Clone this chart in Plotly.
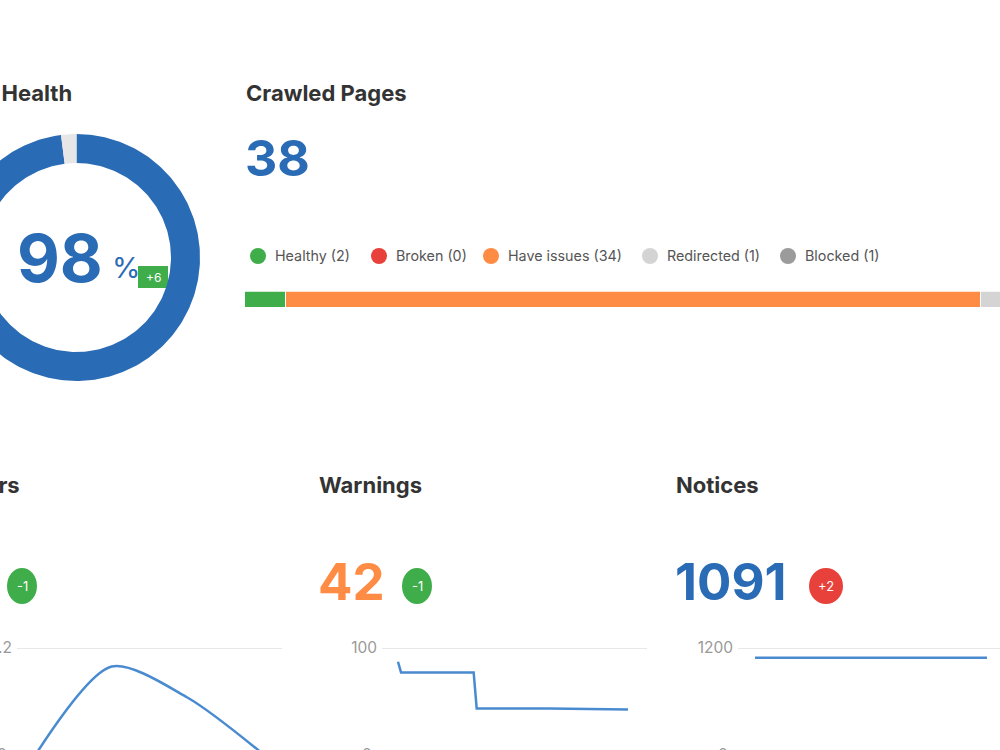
import math
import plotly.graph_objects as go

W, H = 1000, 750

# ---------------- data ----------------
health_values = [98, 2]                 # score, remainder
health_colors = ["#2a6bb5", "#e6e6e6"]
health_delta = "+6"

crawled_total = 38
page_status = ["Healthy", "Broken", "Have issues", "Redirected", "Blocked"]
page_counts = [2, 0, 34, 1, 1]
status_colors = ["#40ad4b", "#e8403a", "#ff8c45", "#d4d4d4", "#9b9b9b"]

issue_titles = ["Errors", "Warnings", "Notices"]
issue_counts = [None, 42, 1091]          # errors count is cropped out of view
issue_count_colors = ["#2a6bb5", "#ff8c45", "#2a6bb5"]
issue_deltas = ["-1", "-1", "+2"]
issue_delta_colors = ["#40ad4b", "#40ad4b", "#e8403a"]

errors_x = [0, 1, 2, 3]
errors_y = [0, 0.99, 0.64, 0]
warnings_x = [0, 1, 25, 26, 50, 76]
warnings_y = [87, 77, 77, 43, 43, 42]
notices_x = [0, 76]
notices_y = [1090, 1091]
axis_top_values = [1.2, 100, 1200]
axis_top_labels = ["1.2", "100", "1200"]

# ---------------- helpers ----------------
def px(x):
    return x / W

def py(y):
    return 1 - y / H

FONT = "Inter, 'Open Sans', Arial, sans-serif"
TITLE_COLOR = "#333333"
LINE_COLOR = "#4a8bd0"

fig = go.Figure()
shapes = []
ann = []

def text(x, y, s, size, color, bold=False, xanchor="left", yanchor="middle"):
    ann.append(dict(x=px(x), y=py(y), xref="paper", yref="paper", text=f"<b>{s}</b>" if bold else s,
                    showarrow=False, xanchor=xanchor, yanchor=yanchor, borderpad=0,
                    font=dict(family=FONT, size=size, color=color)))

# ---------------- donut (pixel overlay axis) ----------------
cx, cy, r_out, r_in = 76.5, 257.5, 123.5, 94.5
total = sum(health_values)
start = 0.0
for v, c in zip(health_values, health_colors):
    a0 = start / total * 2 * math.pi
    a1 = (start + v) / total * 2 * math.pi
    n = max(4, int(v * 3))
    angs = [a0 + (a1 - a0) * i / n for i in range(n + 1)]
    xs = [cx + r_out * math.sin(a) for a in angs] + [cx + r_in * math.sin(a) for a in reversed(angs)]
    ys = [cy - r_out * math.cos(a) for a in angs] + [cy - r_in * math.cos(a) for a in reversed(angs)]
    fig.add_trace(go.Scatter(x=xs + [xs[0]], y=ys + [ys[0]], fill="toself", fillcolor=c,
                             mode="lines", line=dict(width=0, color=c), hoverinfo="skip",
                             showlegend=False, xaxis="x", yaxis="y"))
    start += v

# delta badge in donut
shapes.append(dict(type="rect", xref="paper", yref="paper", x0=px(138), x1=px(168), y0=py(288), y1=py(266),
                   fillcolor="#40ad4b", line=dict(width=0), layer="below"))
text(153, 277.5, health_delta, 12, "white", xanchor="center")
text(104, 258, f"{health_values[0]}", 66, "#2a6bb5", bold=True, xanchor="right")
text(111, 268, "%", 29, "#2a6bb5", bold=False)
text(73, 93, "Site Health", 22, TITLE_COLOR, bold=True, xanchor="right")

# ---------------- crawled pages ----------------
text(245, 93, "Crawled Pages", 22, TITLE_COLOR, bold=True)
text(244, 158, f"{crawled_total}", 50, "#2a6bb5", bold=True)

legend_circle_x = [258, 379, 491, 650, 788]
for name, cnt, col, lx in zip(page_status, page_counts, status_colors, legend_circle_x):
    shapes.append(dict(type="circle", xref="paper", yref="paper", x0=px(lx - 8), x1=px(lx + 8),
                       y0=py(264), y1=py(248), fillcolor=col, line=dict(width=0)))
    text(lx + 16, 256, f"{name} ({cnt})", 14.3, "#555555")

for name, cnt, col in zip(page_status, page_counts, status_colors):
    fig.add_trace(go.Bar(x=[cnt], y=["pages"], orientation="h", marker=dict(color=col, line=dict(color="white", width=1.5)),
                         showlegend=False, hoverinfo="skip", xaxis="x2", yaxis="y2"))

px_per_page = 20.45
bar_left = 245

# ---------------- issue panels ----------------
title_x = [21, 318, 675]
for i in range(3):
    anchor = "right" if i == 0 else "left"
    text(title_x[i], 485, issue_titles[i], 22, TITLE_COLOR, bold=True, xanchor=anchor)

count_x = [None, 317, 674]
pill_x = [(7, 37), (402, 432), (809, 843)]
for i in range(3):
    if issue_counts[i] is not None:
        text(count_x[i], 581, f"{issue_counts[i]}", 51, issue_count_colors[i], bold=True)
    x0, x1 = pill_x[i]
    shapes.append(dict(type="circle", xref="paper", yref="paper", x0=px(x0), x1=px(x1), y0=py(604), y1=py(568),
                       fillcolor=issue_delta_colors[i], line=dict(width=0)))
    text((x0 + x1) / 2, 586, issue_deltas[i], 13, "white", xanchor="center")

series = [(errors_x, errors_y, "spline", 0.8), (warnings_x, warnings_y, "linear", 0),
          (notices_x, notices_y, "linear", 0)]
grid_left = [17, 382, 738]
data_left = [36, 398, 755]
data_right = [263, 628, 987]
GRID_W = 265
ZERO_PX, MAX_PX, TOP_PX = 754, 648, 640

layout_axes = {}
for i, (xs, ys, shp, sm) in enumerate(series):
    n = i + 3
    line = dict(color=LINE_COLOR, width=2.5, shape=shp)
    if shp == "spline":
        line["smoothing"] = sm
    fig.add_trace(go.Scatter(x=xs, y=ys, mode="lines", line=line,
                             showlegend=False, hoverinfo="skip", xaxis=f"x{n}", yaxis=f"y{n}"))
    gl = grid_left[i]
    gr = min(gl + GRID_W, W)
    kx = (data_right[i] - data_left[i]) / (xs[-1] - xs[0])
    xr = [xs[0] - (data_left[i] - gl) / kx, xs[0] + (gr - data_left[i]) / kx]
    ky = (ZERO_PX - MAX_PX) / axis_top_values[i]
    yr = [(ZERO_PX - H) / ky, (ZERO_PX - TOP_PX) / ky]
    layout_axes[f"xaxis{n}"] = dict(domain=[px(gl), px(gr)], range=xr, visible=False, anchor=f"y{n}", fixedrange=True)
    layout_axes[f"yaxis{n}"] = dict(domain=[0, py(TOP_PX)], range=yr, anchor=f"x{n}", tickvals=[axis_top_values[i]],
                                    ticktext=[axis_top_labels[i]], showgrid=True, gridcolor="#e8e8e8", gridwidth=1,
                                    zeroline=False, showline=False, ticks="", automargin=False, ticklabelstandoff=4,
                                    tickfont=dict(family=FONT, size=15.5, color="#999999"), fixedrange=True)
    # zero tick label (mostly below the visible area)
    ann.append(dict(x=px(gl - 8), y=py(ZERO_PX), xref="paper", yref="paper", text="0", showarrow=False,
                    xanchor="right", yanchor="middle", font=dict(family=FONT, size=15.5, color="#999999")))

fig.update_layout(
    width=W, height=H, autosize=False, margin=dict(l=0, r=0, t=0, b=0),
    paper_bgcolor="white", plot_bgcolor="rgba(0,0,0,0)",
    barmode="stack", bargap=0,
    xaxis=dict(domain=[0, 1], range=[0, W], visible=False, fixedrange=True),
    yaxis=dict(domain=[0, 1], range=[H, 0], visible=False, fixedrange=True),
    xaxis2=dict(domain=[px(bar_left), 1], range=[0, (W - bar_left) / px_per_page], visible=False, anchor="y2", fixedrange=True),
    yaxis2=dict(domain=[py(308.5), py(291.5)], visible=False, anchor="x2", fixedrange=True),
    shapes=shapes, annotations=ann, showlegend=False,
    **layout_axes,
)

fig.write_html("out.html")
